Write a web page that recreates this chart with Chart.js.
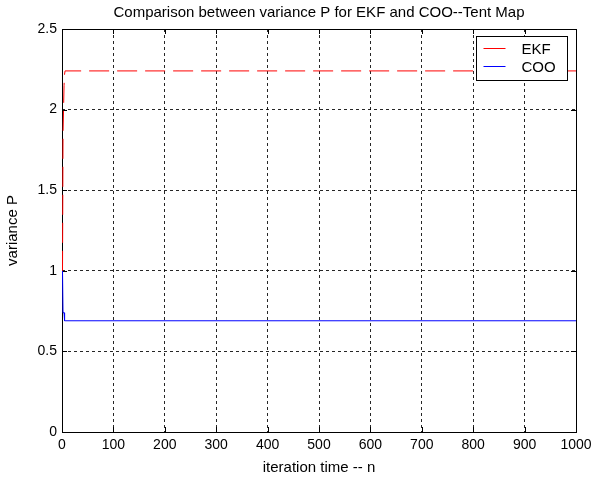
<!DOCTYPE html>
<html>
<head>
<meta charset="utf-8">
<script src="https://cdn.jsdelivr.net/npm/chart.js@4"></script>
<style>
  html, body { margin: 0; padding: 0; background: #fff; }
  #wrap { width: 601px; height: 477px; }
</style>
</head>
<body>
<div id="wrap"><canvas id="varianceChart"></canvas></div>
<script>
// values
const iterations = [1, 2, 3, 4, 5, 6, 1000];
const ekfVariance = [1.0, 1.85, 2.0, 2.15, 2.22, 2.24, 2.24];
const cooVariance = [1.0, 0.74, 0.74, 0.74, 0.69, 0.69, 0.69];
const xTicks = [0, 100, 200, 300, 400, 500, 600, 700, 800, 900, 1000];
const yTicks = [0, 0.5, 1, 1.5, 2, 2.5];
const seriesNames = ['EKF', 'COO'];
const seriesColors = ['#ff0000', '#0000ff'];

const FONT = 'Liberation Sans, Arial, sans-serif';

// MATLAB style box around the axes (under the data) + framed legend on top
const boxAndLegend = {
    id: 'boxAndLegend',
    beforeDatasetsDraw(chart) {
        const { ctx, chartArea: a } = chart;
        ctx.save();
        ctx.setLineDash([]);
        ctx.strokeStyle = '#000';
        ctx.lineWidth = 1;
        ctx.strokeRect(Math.round(a.left) + 0.5, Math.round(a.top) + 0.5,
            Math.round(a.right - a.left), Math.round(a.bottom - a.top));

        // inward tick marks
        const xs = chart.scales.x, ys = chart.scales.y;
        ctx.beginPath();
        xTicks.forEach(v => {
            const px = Math.round(xs.getPixelForValue(v)) + 0.5;
            ctx.moveTo(px, a.bottom); ctx.lineTo(px, a.bottom - 5);
            ctx.moveTo(px, a.top); ctx.lineTo(px, a.top + 5);
        });
        yTicks.forEach(v => {
            const py = Math.round(ys.getPixelForValue(v)) + 0.5;
            ctx.moveTo(a.left, py); ctx.lineTo(a.left + 5, py);
            ctx.moveTo(a.right, py); ctx.lineTo(a.right - 5, py);
        });
        ctx.stroke();
        ctx.restore();
    },
    afterDraw(chart) {
        const { ctx } = chart;
        ctx.save();
        ctx.setLineDash([]);
        ctx.lineWidth = 1;
        ctx.strokeStyle = '#000';
        const lx = 476.5, ly = 36.5, lw = 91, lh = 44;
        ctx.fillStyle = '#fff';
        ctx.fillRect(lx, ly, lw, lh);
        ctx.strokeRect(lx, ly, lw, lh);
        ctx.font = '15px ' + FONT;
        ctx.textBaseline = 'middle';
        seriesNames.forEach((name, i) => {
            const y = Math.round(ly + 11 + i * 18) + 0.5;
            ctx.beginPath();
            ctx.strokeStyle = seriesColors[i];
            ctx.moveTo(lx + 7, y);
            ctx.lineTo(lx + 29, y);
            ctx.stroke();
            ctx.fillStyle = '#000';
            ctx.fillText(name, lx + 45, y + 1);
        });
        ctx.restore();
    }
};

const ctx = document.getElementById('varianceChart').getContext('2d');

new Chart(ctx, {
    type: 'line',
    data: {
        datasets: [{
            label: seriesNames[0],
            data: iterations.map((n, i) => ({ x: n, y: ekfVariance[i] })),
            borderColor: seriesColors[0],
            borderWidth: 1,
            borderDash: [20, 8],
            pointRadius: 0,
            tension: 0,
            fill: false,
            clip: false,
        }, {
            label: seriesNames[1],
            data: iterations.map((n, i) => ({ x: n, y: cooVariance[i] })),
            borderColor: seriesColors[1],
            borderWidth: 1,
            pointRadius: 0,
            tension: 0,
            fill: false,
            clip: false,
        }]
    },
    options: {
        responsive: true,
        maintainAspectRatio: false,
        animation: false,
        layout: { padding: { left: 0, right: 25, top: 0, bottom: 0 } },
        plugins: {
            legend: { display: false },
            tooltip: { enabled: false },
            title: {
                display: true,
                fullSize: false,
                text: 'Comparison between variance P for EKF and COO--Tent Map',
                color: '#000',
                font: { family: FONT, size: 15, weight: 'normal' },
                padding: { top: 4, bottom: 7 }
            }
        },
        scales: {
            x: {
                type: 'linear',
                min: 0,
                max: 1000,
                afterFit(scale) { scale.height = 45; },
                afterBuildTicks(scale) { scale.ticks = xTicks.map(v => ({ value: v })); },
                grid: { color: 'rgba(0,0,0,0.85)', drawTicks: false },
                border: { display: false, dash: [3, 3] },
                ticks: {
                    color: '#000', padding: 5, maxRotation: 0,
                    font: { family: FONT, size: 14 },
                    callback: v => String(v)
                },
                title: {
                    display: true,
                    text: 'iteration time -- n',
                    color: '#000',
                    font: { family: FONT, size: 15 },
                    padding: { top: 2, bottom: 0 }
                }
            },
            y: {
                min: 0,
                max: 2.5,
                afterFit(scale) { scale.width = 62; },
                afterBuildTicks(scale) { scale.ticks = yTicks.map(v => ({ value: v })); },
                grid: { color: 'rgba(0,0,0,0.85)', drawTicks: false },
                border: { display: false, dash: [3, 3] },
                ticks: {
                    color: '#000',
                    padding: 5,
                    font: { family: FONT, size: 14 },
                    callback: v => String(v)
                },
                title: {
                    display: true,
                    text: 'variance P',
                    color: '#000',
                    font: { family: FONT, size: 15 },
                    padding: { top: 4, bottom: 4 }
                }
            }
        }
    },
    plugins: [boxAndLegend]
});
</script>
</body>
</html>
